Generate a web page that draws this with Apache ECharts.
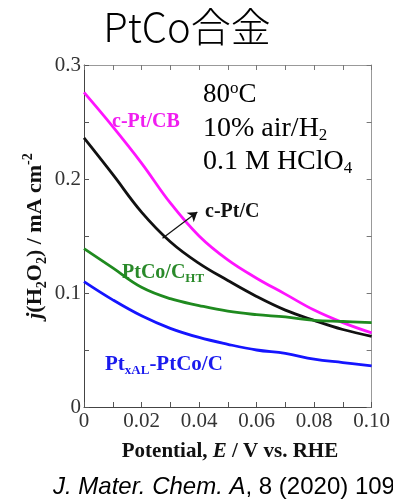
<!DOCTYPE html>
<html><head><meta charset="utf-8">
<script src="https://cdn.jsdelivr.net/npm/echarts@6/dist/echarts.min.js"></script>
<style>html,body{margin:0;padding:0;background:#fff}#c{width:393px;height:499px}</style>
</head><body><div id="c"></div>
<script>
// ---- data ----
const potential = [0, 0.01, 0.02, 0.03, 0.04, 0.05, 0.06, 0.07, 0.08, 0.09, 0.10];
const cPtCB   = [0.276, 0.246, 0.214, 0.179, 0.150, 0.129, 0.113, 0.099, 0.085, 0.074, 0.065];
const cPtC    = [0.236, 0.204, 0.171, 0.145, 0.126, 0.111, 0.097, 0.085, 0.076, 0.068, 0.062];
const ptCoCHT = [0.139, 0.122, 0.105, 0.095, 0.089, 0.084, 0.081, 0.079, 0.076, 0.075, 0.074];
const ptxAL   = [0.110, 0.094, 0.080, 0.069, 0.061, 0.055, 0.050, 0.047, 0.042, 0.039, 0.036];
const xTickLabels = ['0', '0.02', '0.04', '0.06', '0.08', '0.10'];
const yTickLabels = ['0', '0.1', '0.2', '0.3'];
const arrowFrom = [0.0273, 0.148];
const arrowTo = [0.0394, 0.171];

const serif = 'Liberation Serif';
const chart = echarts.init(document.getElementById('c'), null, {renderer: 'canvas'});

function xFmt(v) {
  const k = Math.round(v * 100);
  if (k % 2 !== 0) return '';
  return xTickLabels[k / 2] || '';
}
function yFmt(v) {
  const k = Math.round(v * 100);
  if (k % 10 !== 0) return '';
  return yTickLabels[k / 10] || '';
}
function pts(arr) { return potential.map((x, i) => [x, arr[i]]); }

const axisCommon = {
  type: 'value', splitLine: {show: false},
  axisTick: {show: true, inside: true, length: 5, lineStyle: {color: '#555'}},
};

const option = {
  animation: false,
  grid: {left: 84, right: 20, top: 65, bottom: 92},
  xAxis: [
    Object.assign({}, axisCommon, {
      min: 0, max: 0.1, interval: 0.01, position: 'bottom',
      axisLine: {show: true, onZero: false, lineStyle: {color: '#444', width: 1}},
      axisLabel: {formatter: xFmt, fontFamily: serif, fontSize: 21, color: '#333', margin: 4}
    }),
    Object.assign({}, axisCommon, {
      min: 0, max: 0.1, interval: 0.01, position: 'top',
      axisLine: {show: true, onZero: false, lineStyle: {color: '#999', width: 1}},
      axisTick: {show: true, inside: true, length: 5, lineStyle: {color: '#777'}},
      axisLabel: {show: false}
    })
  ],
  yAxis: [
    Object.assign({}, axisCommon, {
      min: 0, max: 0.3, interval: 0.05, position: 'left',
      axisLine: {show: true, onZero: false, lineStyle: {color: '#444', width: 1}},
      axisLabel: {formatter: yFmt, fontFamily: serif, fontSize: 21, color: '#333', margin: 3}
    }),
    Object.assign({}, axisCommon, {
      min: 0, max: 0.3, interval: 0.05, position: 'right',
      axisLine: {show: true, onZero: false, lineStyle: {color: '#999', width: 1}},
      axisTick: {show: true, inside: true, length: 5, lineStyle: {color: '#777'}},
      axisLabel: {show: false}
    })
  ],
  series: [
    {type: 'line', name: 'c-Pt/CB', data: pts(cPtCB), smooth: 0.4, showSymbol: false,
     lineStyle: {color: '#ff14ff', width: 2.8}},
    {type: 'line', name: 'c-Pt/C', data: pts(cPtC), smooth: 0.4, showSymbol: false,
     lineStyle: {color: '#111', width: 2.8},
     markLine: {silent: true, symbol: ['none', 'arrow'], symbolSize: 9,
       lineStyle: {color: '#111', width: 1.2, type: 'solid'}, label: {show: false},
       data: [[{coord: arrowFrom}, {coord: arrowTo}]]}},
    {type: 'line', name: 'PtCo/CHT', data: pts(ptCoCHT), smooth: 0.4, showSymbol: false,
     lineStyle: {color: '#1f8a1f', width: 2.8}},
    {type: 'line', name: 'PtxAL-PtCo/C', data: pts(ptxAL), smooth: 0.4, showSymbol: false,
     lineStyle: {color: '#1515ff', width: 2.8}}
  ],
  graphic: [
    {type: 'text', x: 187, y: 27, style: {text: 'PtCo合金', font: '300 40px "Noto Sans CJK JP"', fill: '#000', align: 'center', verticalAlign: 'middle'}},
    // y axis name
    {type: 'text', x: 35, y: 236, rotation: Math.PI / 2,
     style: {
       text: '{i|j}{b|(H}{s|2}{b|O}{s|2}{b|) / mA cm}{p|-2}',
       align: 'center', verticalAlign: 'middle',
       rich: {
         i: {font: 'italic bold 22px "Liberation Serif"', fill: '#111', lineHeight: 28, verticalAlign: 'middle'},
         b: {font: 'bold 22px "Liberation Serif"', fill: '#111', lineHeight: 28, verticalAlign: 'middle'},
         s: {font: 'bold 14px "Liberation Serif"', fill: '#111', lineHeight: 14, verticalAlign: 'bottom'},
         p: {font: 'bold 14px "Liberation Serif"', fill: '#111', lineHeight: 14, verticalAlign: 'top'}
       }
     }},
    // x axis name
    {type: 'text', x: 230, y: 452,
     style: {
       text: '{b|Potential, }{i|E}{b| / V vs. RHE}',
       align: 'center', verticalAlign: 'middle',
       rich: {
         b: {font: 'bold 21px "Liberation Serif"', fill: '#111'},
         i: {font: 'italic bold 21px "Liberation Serif"', fill: '#111'}
       }
     }},
    // conditions
    {type: 'text', x: 203, y: 95,
     style: {text: '{n|80}{p|o}{n|C}', verticalAlign: 'middle',
       rich: {n: {font: '27px "Liberation Serif"', fill: '#000', lineHeight: 30},
              p: {font: '17px "Liberation Serif"', fill: '#000', lineHeight: 17, verticalAlign: 'top'}}}},
    {type: 'text', x: 203, y: 129,
     style: {text: '{n|10% air/H}{s|2}', verticalAlign: 'middle',
       rich: {n: {font: '28px "Liberation Serif"', fill: '#000', lineHeight: 30},
              s: {font: '17px "Liberation Serif"', fill: '#000', lineHeight: 17, verticalAlign: 'bottom'}}}},
    {type: 'text', x: 203, y: 162,
     style: {text: '{n|0.1 M HClO}{s|4}', verticalAlign: 'middle',
       rich: {n: {font: '28px "Liberation Serif"', fill: '#000', lineHeight: 30},
              s: {font: '17px "Liberation Serif"', fill: '#000', lineHeight: 17, verticalAlign: 'bottom'}}}},
    // series labels
    {type: 'text', x: 112, y: 122,
     style: {text: 'c-Pt/CB', font: 'bold 20px "Liberation Serif"', fill: '#f01ef0', verticalAlign: 'middle'}},
    {type: 'text', x: 205, y: 212,
     style: {text: 'c-Pt/C', font: 'bold 20px "Liberation Serif"', fill: '#111', verticalAlign: 'middle'}},
    {type: 'text', x: 122, y: 273,
     style: {text: '{n|PtCo/C}{s|HT}', verticalAlign: 'middle',
       rich: {n: {font: 'bold 20px "Liberation Serif"', fill: '#2a8a2a', lineHeight: 24},
              s: {font: 'bold 13px "Liberation Serif"', fill: '#2a8a2a', lineHeight: 13, verticalAlign: 'bottom'}}}},
    {type: 'text', x: 105, y: 365,
     style: {text: '{n|Pt}{s|xAL}{n|-PtCo/C}', verticalAlign: 'middle',
       rich: {n: {font: 'bold 21px "Liberation Serif"', fill: '#1a1aee', lineHeight: 24},
              s: {font: 'bold 13px "Liberation Serif"', fill: '#1a1aee', lineHeight: 13, verticalAlign: 'bottom'}}}},
    // citation
    {type: 'text', x: 53, y: 487,
     style: {text: '{i|J. Mater. Chem. A}{n|, 8 (2020) 109}', verticalAlign: 'middle',
       rich: {i: {font: 'italic 24px "Liberation Sans"', fill: '#000'},
              n: {font: '24px "Liberation Sans"', fill: '#000'}}}}
  ]
};
chart.setOption(option);
</script>
</body></html>
